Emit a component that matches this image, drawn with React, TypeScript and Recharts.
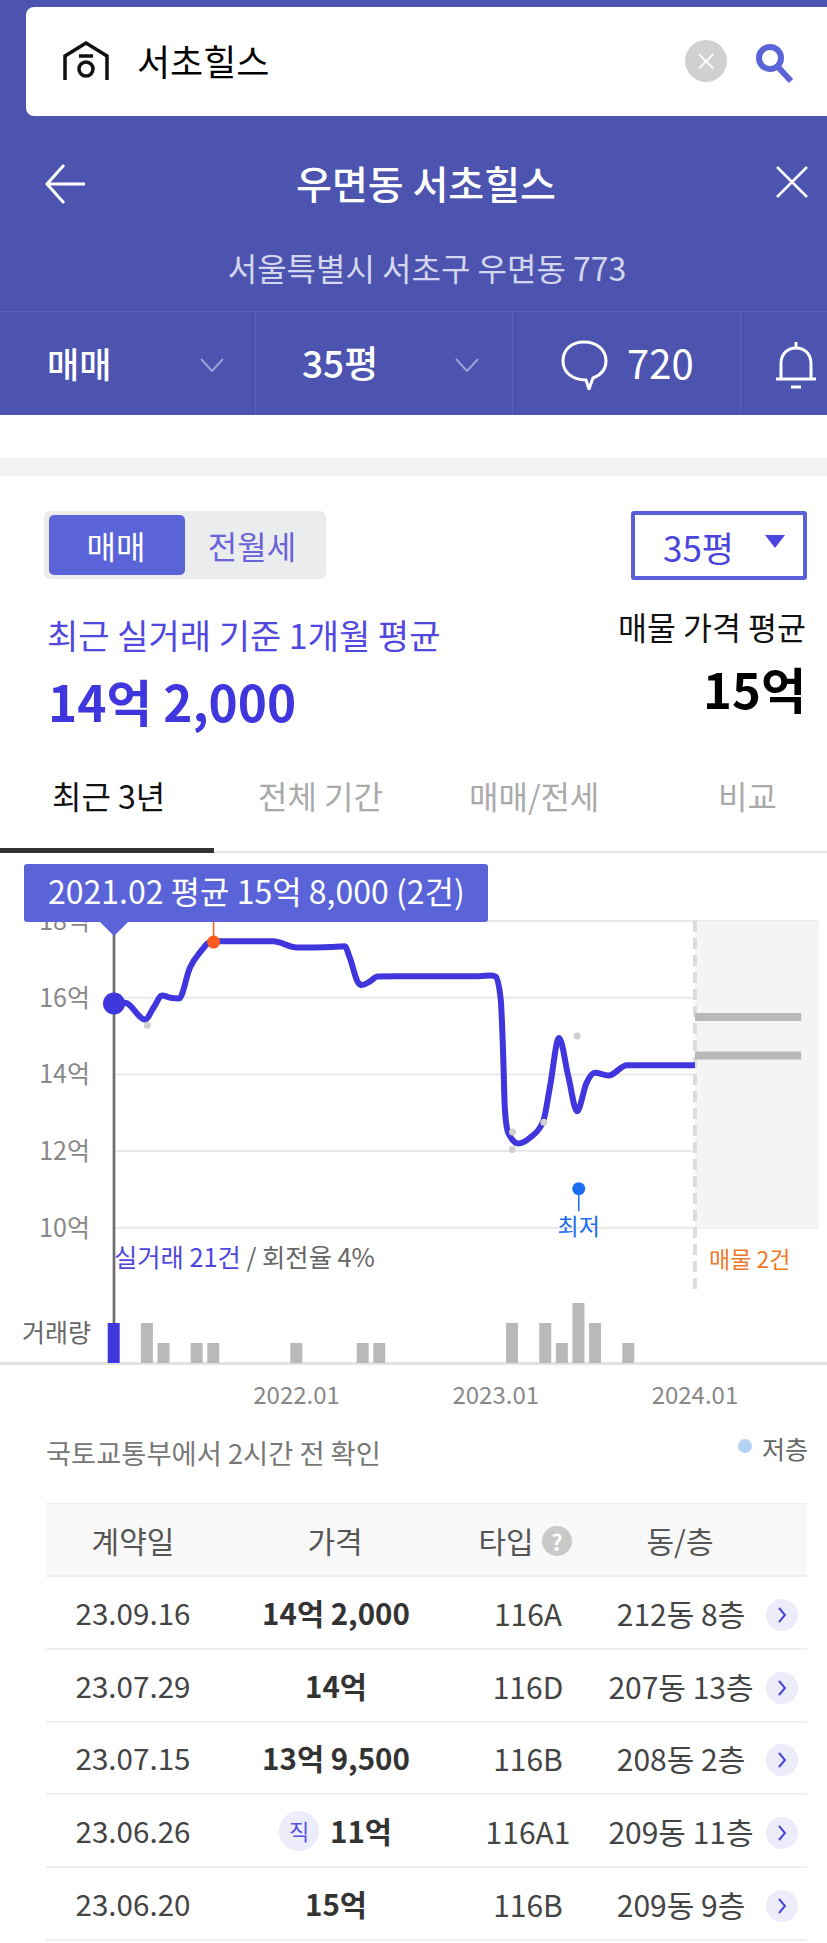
import React from 'react';
import { ComposedChart, Line, Bar, BarChart, Cell, XAxis, YAxis, CartesianGrid, ReferenceArea, ReferenceDot, ReferenceLine } from 'recharts';

const FONT = "'Noto Sans CJK KR', 'Noto Sans', sans-serif";

// price trace (month index from 2021.02, 억)
const traceMonths = [0, 0.66, 1.87, 2.4, 2.89, 3.4, 3.92, 4.58, 5.18, 5.9, 7, 8, 9.58, 11.02, 12, 13, 13.9, 14.2, 14.7, 14.94, 15.4, 15.88, 17, 18, 19, 20, 21, 22, 22.7, 23, 23.3, 23.45, 23.55, 23.75, 24.36, 25.06, 25.86, 26.27, 26.81, 27.37, 27.9, 28.47, 28.97, 29.8, 30.9, 32, 33, 34, 35];
const traceValues = [15.85, 15.87, 15.43, 15.75, 16.06, 16.0, 15.98, 16.79, 17.18, 17.47, 17.47, 17.47, 17.47, 17.31, 17.31, 17.32, 17.34, 17.05, 16.4, 16.33, 16.42, 16.55, 16.56, 16.56, 16.56, 16.56, 16.56, 16.56, 16.58, 16.55, 15.95, 14.47, 13.08, 12.48, 12.2, 12.35, 12.78, 13.69, 14.95, 13.95, 13.04, 13.78, 14.04, 13.97, 14.24, 14.24, 14.24, 14.24, 14.24];

// monthly volume
const volumeMonths = [0, 2, 3, 5, 6, 11, 15, 16, 24, 26, 27, 28, 29, 31];
const volumeCounts = [2, 2, 1, 1, 1, 1, 1, 1, 2, 2, 1, 3, 2, 1];

// single deals
const dealMonths = [2, 24, 24.01, 25.9, 27.9];
const dealPrices = [15.28, 12.04, 12.5, 12.75, 15.0];

// listing prices
const listingPrices = [15.5, 14.49];

const priceTicks = [10, 12, 14, 16, 18];
const monthTicks = [11, 23, 35];
const monthLabels = ['2022.01', '2023.01', '2024.01'];

const maxMarker = { month: 6, price: 17.45 };
const minMarker = { month: 28, price: 11.02 };
const selected = { month: 0, price: 15.85 };

const tableHead = ['계약일', '가격', '타입', '동/층'];
const tableDates = ['23.09.16', '23.07.29', '23.07.15', '23.06.26', '23.06.20'];
const tablePrices = ['14억 2,000', '14억', '13억 9,500', '11억', '15억'];
const tableTypes = ['116A', '116D', '116B', '116A1', '116B'];
const tableUnits = ['212동 8층', '207동 13층', '208동 2층', '209동 11층', '209동 9층'];

const allMonths = Array.from(new Set([...traceMonths, ...dealMonths])).sort((a, b) => a - b);
const rows = allMonths.map((month) => {
  const t = traceMonths.indexOf(month);
  const d = dealMonths.indexOf(month);
  return {
    month,
    price: t >= 0 ? traceValues[t] : null,
    deal: d >= 0 ? dealPrices[d] : null,
  };
});
const volumeRows = volumeMonths.map((month, i) => ({ month, volume: volumeCounts[i] }));

function T({ x, y, s, c = '#000', w = 400, a = 'left', ls = 0, children }: any) {
  const tf = a === 'center' ? 'translate(-50%,-50%)' : a === 'right' ? 'translate(-100%,-50%)' : 'translate(0,-50%)';
  return (
    <div style={{ position: 'absolute', left: x, top: y, transform: tf, fontSize: s, color: c, fontWeight: w, letterSpacing: ls, whiteSpace: 'nowrap', lineHeight: 1, fontFamily: FONT }}>
      {children}
    </div>
  );
}
function R({ x, y, w, h, c, r = 0, extra = {} }: any) {
  return <div style={{ position: 'absolute', left: x, top: y, width: w, height: h, background: c, borderRadius: r, ...extra }} />;
}

const HEADER = '#4c54b0';
const PURPLE = '#5a64d8';
const BLUE = '#4036dd';
const X_DOMAIN: [number, number] = [0, 42.45];

function VolumeChart() {
  return (
    <div style={{ position: 'absolute', left: 0, top: 1290 }}>
      <BarChart width={827} height={73} data={volumeRows} margin={{ top: 0, right: 8.4, bottom: 0, left: 114 }} style={{ overflow: 'visible' }}>
        <XAxis dataKey="month" type="number" domain={X_DOMAIN} hide />
        <YAxis hide domain={[0, 3.65]} />
        <Bar dataKey="volume" barSize={12} isAnimationActive={false}>
          {volumeRows.map((r) => <Cell key={r.month} fill={r.month === selected.month ? BLUE : '#b9b9b9'} />)}
        </Bar>
      </BarChart>
    </div>
  );
}

function Chart() {
  return (
    <div style={{ position: 'absolute', left: 0, top: 860 }}>
      <ComposedChart width={827} height={560} data={rows} margin={{ top: 61, right: 8.4, bottom: 0, left: 0 }}>
        <CartesianGrid horizontal vertical={false} stroke="#e9e9e9" strokeWidth={2} syncWithTicks />
        <XAxis dataKey="month" type="number" domain={X_DOMAIN} ticks={monthTicks} tickFormatter={(v: number) => monthLabels[monthTicks.indexOf(v)]}
          axisLine={false} tickLine={false} height={57} tickMargin={18} interval={0}
          tick={{ fill: '#888', fontSize: 24, fontFamily: FONT }} />
        <YAxis domain={[6.475, 18]} ticks={priceTicks} tickFormatter={(v: number) => `${v}억`} width={114}
          axisLine={false} tickLine={false} tickMargin={18} interval={0} allowDataOverflow
          tick={{ fill: '#888', fontSize: 25, fontFamily: FONT }} />
        <ReferenceArea x1={35} x2={42.45} y1={10} y2={18} fill="#f4f4f4" fillOpacity={1} stroke="none" />
        <ReferenceLine segment={[{ x: 35, y: 18 }, { x: 35, y: 8.29 }]} stroke="#dcdcdc" strokeWidth={4} strokeDasharray="11 6" />
        {listingPrices.map((p) => (
          <ReferenceLine key={p} segment={[{ x: 35, y: p }, { x: 41.4, y: p }]} stroke="#b8b8b8" strokeWidth={8} />
        ))}
        <Line dataKey="deal" stroke="none" dot={{ r: 3.5, fill: '#d0d0d0', stroke: 'none' }} activeDot={false} isAnimationActive={false} />
        <ReferenceLine segment={[{ x: selected.month, y: 18 }, { x: selected.month, y: 6.475 }]} stroke="#6e6e6e" strokeWidth={2.7} />
        <ReferenceLine segment={[{ x: maxMarker.month, y: maxMarker.price }, { x: maxMarker.month, y: 18 }]} stroke="#ff5a1f" strokeWidth={1.5} />
        <Line dataKey="price" type="monotoneX" connectNulls stroke={BLUE} strokeWidth={6} dot={false} activeDot={false} isAnimationActive={false} />
        <ReferenceDot x={maxMarker.month} y={maxMarker.price} r={6.5} fill="#ff5a1f" stroke="none" />
        <ReferenceDot x={selected.month} y={selected.price} r={11} fill={BLUE} stroke="none" />
        <ReferenceLine segment={[{ x: minMarker.month, y: minMarker.price }, { x: minMarker.month, y: 10.43 }]} stroke="#1a6cf0" strokeWidth={1.5} />
        <ReferenceDot x={minMarker.month} y={minMarker.price} r={6.5} fill="#1a6cf0" stroke="none" />
        <ReferenceDot x={minMarker.month} y={10.02} r={0} fill="none" stroke="none"
          label={{ value: '최저', position: 'center', fill: '#1a6cf0', fontSize: 23, fontFamily: FONT }} />
      </ComposedChart>
    </div>
  );
}

export default function App() {
  return (
    <div style={{ position: 'absolute', left: 0, top: 0, width: 827, height: 1943, background: '#fff', overflow: 'hidden', fontFamily: FONT }}>
      {/* header */}
      <R x={0} y={0} w={827} h={415} c={HEADER} />
      <R x={26} y={7} w={810} h={109} c="#fff" r={8} />
      <svg style={{ position: 'absolute', left: 62, top: 41 }} width={48} height={40} viewBox="0 0 48 40" fill="none" stroke="#111" strokeWidth={3.5}>
        <path d="M3 39V15L24 2l21 13v24" /><path d="M17 15h14" /><circle cx={24} cy={28} r={7} />
      </svg>
      <T x={137} y={60} s={36}>서초힐스</T>
      <div style={{ position: 'absolute', left: 685, top: 40, width: 42, height: 42, borderRadius: 21, background: '#d0d0d0' }} />
      <T x={706} y={60} s={24} c="#fff" a="center">×</T>
      <svg style={{ position: 'absolute', left: 750, top: 40 }} width={46} height={46} viewBox="0 0 46 46" fill="none" stroke="#5a64d8" strokeWidth={6}>
        <circle cx={20} cy={18} r={11} /><path d="M28 27l13 14" />
      </svg>
      <svg style={{ position: 'absolute', left: 44, top: 163 }} width={44} height={42} viewBox="0 0 44 42" fill="none" stroke="#fff" strokeWidth={3}>
        <path d="M20 2L3 21l17 19M3 21h38" />
      </svg>
      <T x={426} y={182} s={39} c="#fff" a="center" w={500}>우면동 서초힐스</T>
      <svg style={{ position: 'absolute', left: 775, top: 165 }} width={34} height={34} viewBox="0 0 34 34" fill="none" stroke="#fff" strokeWidth={2.5}>
        <path d="M2 2l30 30M32 2L2 32" />
      </svg>
      <T x={427} y={267} s={32} c="#d4d6ee" a="center">서울특별시 서초구 우면동 773</T>
      <R x={0} y={311} w={827} h={1} c="#5a62bb" />
      <R x={255} y={311} w={1} h={104} c="#5a62bb" />
      <R x={512} y={311} w={1} h={104} c="#5a62bb" />
      <R x={740} y={311} w={1} h={104} c="#5a62bb" />
      <T x={47} y={362} s={35} c="#fff" w={500}>매매</T>
      <T x={302} y={362} s={37} c="#fff" w={500}>35평</T>
      {[212, 467].map((x) => (
        <svg key={x} style={{ position: 'absolute', left: x - 12, top: 358 }} width={24} height={14} viewBox="0 0 24 14" fill="none" stroke="#9ba0d8" strokeWidth={2}>
          <path d="M1 1l11 12L23 1" />
        </svg>
      ))}
      <svg style={{ position: 'absolute', left: 560, top: 340 }} width={50} height={50} viewBox="0 0 50 50" fill="none" stroke="#fff" strokeWidth={3}>
        <path d="M24 2c13 0 22 8 22 19 0 8-5 14-13 17l-4 11-3-9C12 40 3 32 3 21 3 10 11 2 24 2z" />
      </svg>
      <T x={627} y={362} s={40} c="#fff">720</T>
      <svg style={{ position: 'absolute', left: 774, top: 340 }} width={44} height={50} viewBox="0 0 44 50" fill="none" stroke="#fff" strokeWidth={3}>
        <path d="M2 39h40M7 39V24C7 14 13 8 22 8s15 6 15 16v15M22 2v6M17 47h10" />
      </svg>
      <R x={0} y={458} w={827} h={18} c="#f3f3f3" />

      {/* summary */}
      <R x={44} y={511} w={282} h={68} c="#ebecee" r={6} />
      <R x={49} y={515} w={136} h={60} c={PURPLE} r={5} />
      <T x={116} y={545} s={32} c="#fff" a="center">매매</T>
      <T x={252} y={545} s={32} c="#6a63d8" a="center">전월세</T>
      <div style={{ position: 'absolute', left: 631, top: 511, width: 168, height: 61, border: '4px solid #5a5fd8', borderRadius: 3 }} />
      <T x={663} y={546} s={35} c="#4a45dc">35평</T>
      <svg style={{ position: 'absolute', left: 765, top: 535 }} width={20} height={13} viewBox="0 0 20 13"><path d="M0 0h20L10 13z" fill="#4a45dc" /></svg>
      <T x={47} y={635} s={34} c="#5148e0">최근 실거래 기준 1개월 평균</T>
      <T x={48} y={701} s={49.5} c={BLUE} w={700}>14억 2,000</T>
      <T x={806} y={627} s={31.5} c="#111" a="right">매물 가격 평균</T>
      <T x={806} y={687} s={49} c="#000" a="right" w={700}>15억</T>

      {/* tabs */}
      <T x={52} y={795} s={32} c="#111">최근 3년</T>
      <T x={258} y={795} s={32} c="#aaa">전체 기간</T>
      <T x={469} y={795} s={32} c="#aaa">매매/전세</T>
      <T x={718} y={795} s={32} c="#aaa">비교</T>
      <R x={0} y={851} w={827} h={2} c="#e2e2e2" />
      <R x={0} y={848} w={214} h={5} c="#333" />

      {/* chart */}
      <R x={0} y={1362} w={827} h={3} c="#e2e2e2" />
      <Chart />
      <VolumeChart />
      <R x={24} y={864} w={464} h={58} c={PURPLE} r={3} />
      <svg style={{ position: 'absolute', left: 100, top: 922 }} width={28} height={14} viewBox="0 0 28 14"><path d="M0 0h28L14 14z" fill={PURPLE} /></svg>
      <T x={48} y={890} s={32} c="#fff">2021.02 평균 15억 8,000 (2건)</T>
      <T x={114} y={1257} s={25.3} c="#666"><span style={{ color: '#4f46e0' }}>실거래 21건</span> / 회전율 4%</T>
      <T x={709} y={1258} s={23} c="#ee7a2a">매물 2건</T>
      <T x={22} y={1331} s={25} c="#666">거래량</T>

      {/* list */}
      <T x={46} y={1453} s={27.3} c="#777">국토교통부에서 2시간 전 확인</T>
      <div style={{ position: 'absolute', left: 738, top: 1439, width: 14, height: 14, borderRadius: 7, background: '#b4d2f5' }} />
      <T x={762} y={1448} s={25} c="#666">저층</T>
      <R x={46} y={1504} w={761} h={72} c="#f8f8f8" />
      <R x={46} y={1503} w={761} h={1} c="#eee" />
      <R x={46} y={1575} w={761} h={2} c="#eee" />
      <T x={133} y={1540} s={30} c="#555" a="center">{tableHead[0]}</T>
      <T x={335} y={1540} s={30} c="#555" a="center">{tableHead[1]}</T>
      <T x={506} y={1540} s={30} c="#555" a="center">{tableHead[2]}</T>
      <div style={{ position: 'absolute', left: 542, top: 1526, width: 30, height: 30, borderRadius: 15, background: '#c9c9c9' }} />
      <T x={557} y={1541} s={22} c="#fff" a="center" w={700}>?</T>
      <T x={680} y={1540} s={30} c="#555" a="center">{tableHead[3]}</T>
      {tableDates.map((d, i) => {
        const cy = 1613 + i * 72.7;
        const isDirect = i === 3;
        return (
          <React.Fragment key={d}>
            <R x={46} y={cy + 35} w={761} h={2} c="#f0f0f0" />
            <T x={133} y={cy} s={29.6} c="#444" a="center">{d}</T>
            {isDirect && <div style={{ position: 'absolute', left: 279, top: cy - 20, width: 40, height: 40, borderRadius: 20, background: '#ececfb' }} />}
            {isDirect && <T x={299} y={cy - 1} s={22} c="#5a4fe0" a="center">직</T>}
            <T x={isDirect ? 361 : 336} y={cy} s={29.5} c="#333" a="center" w={700}>{tablePrices[i]}</T>
            <T x={528} y={cy} s={30} c="#444" a="center">{tableTypes[i]}</T>
            <T x={681} y={cy} s={30} c="#444" a="center">{tableUnits[i]}</T>
            <div style={{ position: 'absolute', left: 766, top: cy - 14, width: 32, height: 32, borderRadius: 16, background: '#ececfb' }} />
            <svg style={{ position: 'absolute', left: 777, top: cy - 6 }} width={10} height={16} viewBox="0 0 10 16" fill="none" stroke="#4a45dc" strokeWidth={2}><path d="M2 1l6 7-6 7" /></svg>
          </React.Fragment>
        );
      })}
    </div>
  );
}
